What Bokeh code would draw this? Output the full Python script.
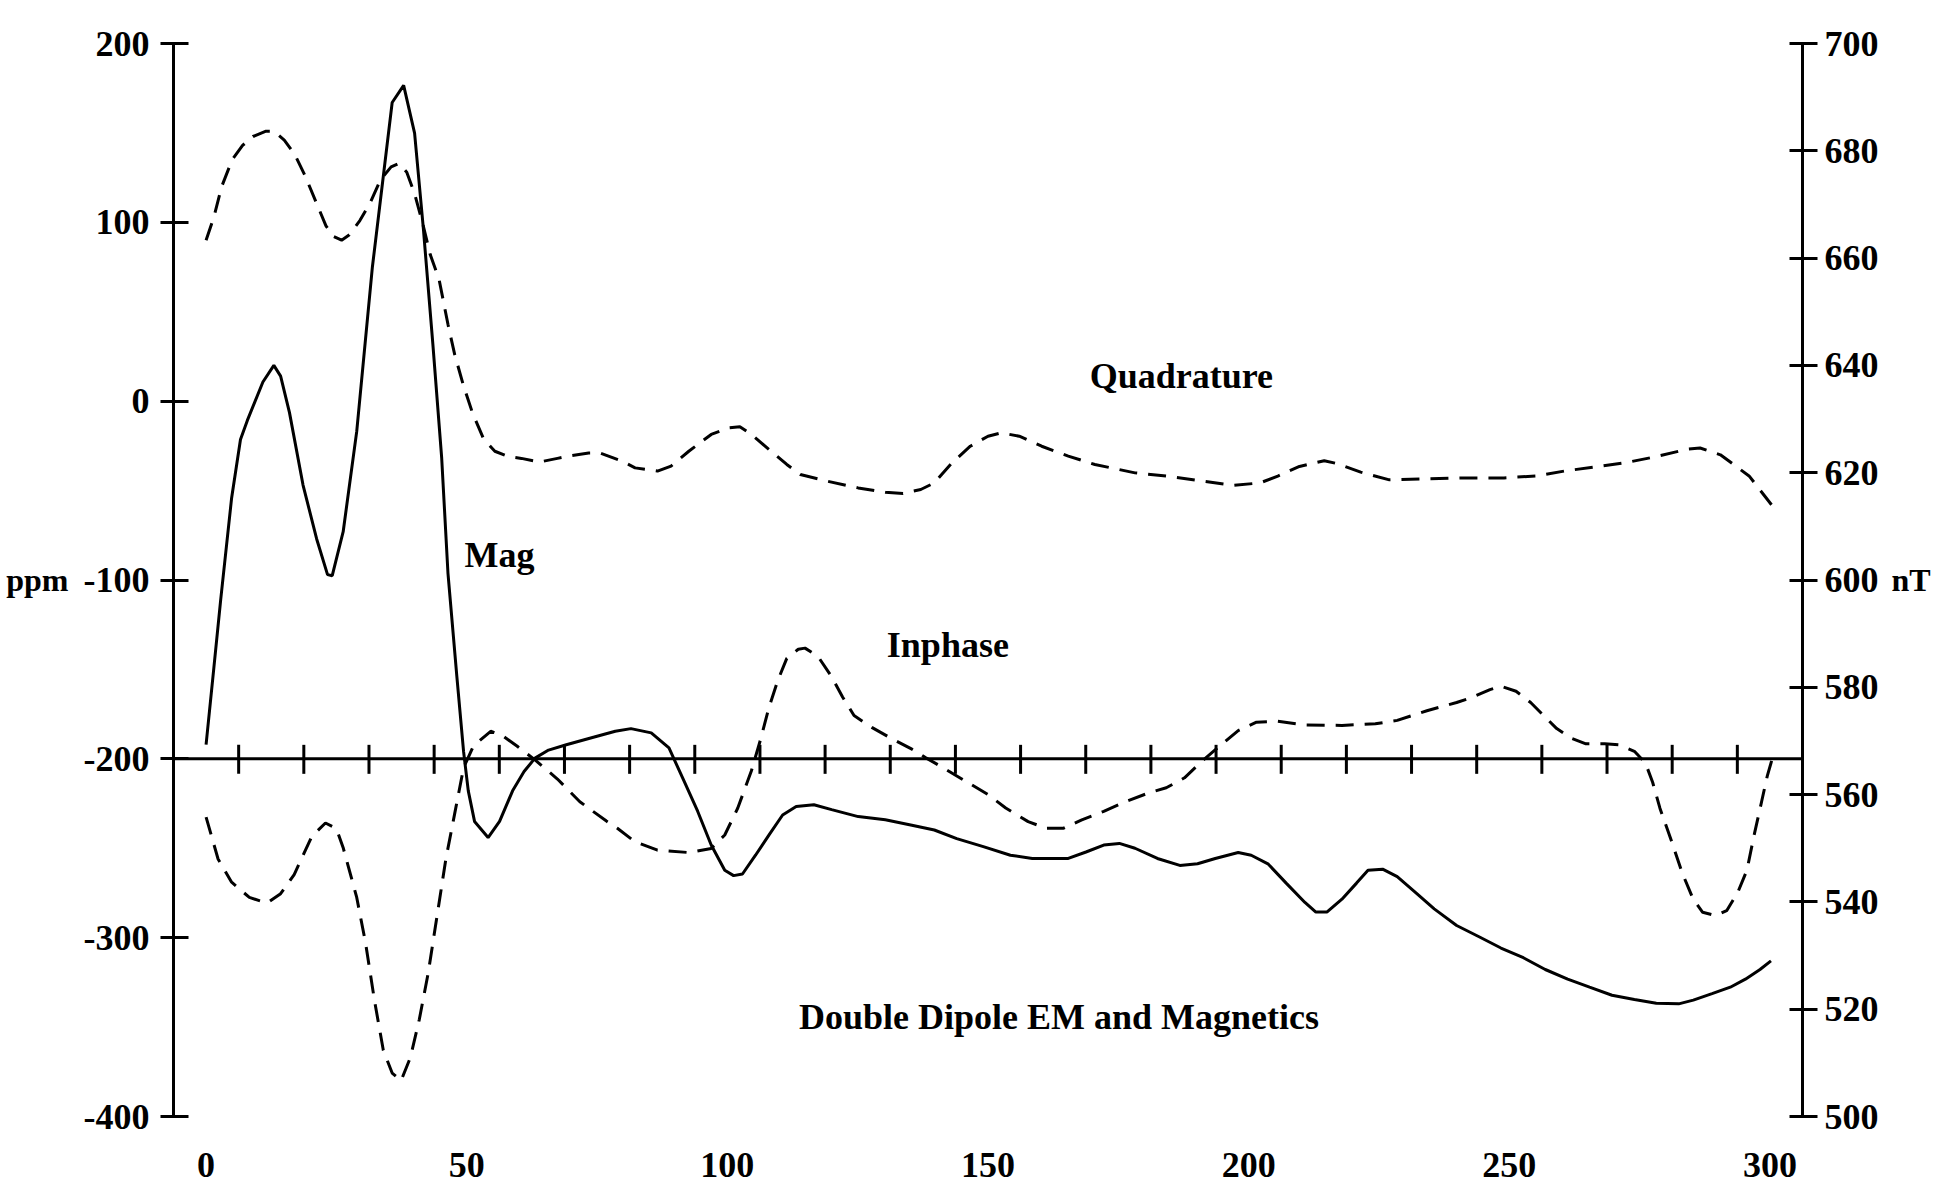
from bokeh.plotting import figure
from bokeh.models import Range1d, LinearAxis, FixedTicker, ColumnDataSource, Span
from bokeh.embed import file_html
from bokeh.resources import INLINE
from bokeh.core.properties import value

FONT = "Liberation Serif"
FSIZE = "36px"
AXLABEL_SIZE = "32px"

# ---------------- data ----------------
# Quadrature (ppm, left axis) - dashed upper curve
quad_x = [0, 1.5, 3, 5, 7, 9, 11.5, 13, 15, 17, 19, 21, 23, 24.5, 26, 27.5, 29.5, 31.5,
          33.5, 35.5, 37, 38.5, 40, 41.5, 43, 44.7, 46.4, 47.7, 49.4, 51.1, 53.3, 55.4,
          58, 60.5, 64, 67.4, 70, 73.4, 75.5, 79.8, 82.3, 86.6, 89.2, 92.6, 96.9, 100.3,
          102.4, 104.6, 108, 111.4, 114, 119.1, 125.1, 130.3, 133.7, 137.1, 139.7, 143.1,
          146.6, 150, 152.5, 156, 160.3, 165.4, 170.5, 178.2, 184.2, 191.1, 197.1, 202.2,
          205.6, 209.75, 214.5, 216.8, 221.5, 227, 233.3, 241.1, 249, 255.2, 260.7, 266.2,
          272.5, 278, 284.3, 286.6, 290.5, 296, 300.3]
quad_ppm = [90, 103, 120, 135, 143, 148, 151, 151, 146, 138, 126, 112, 98, 92, 90, 93, 101,
            111, 124, 131, 133, 128, 116, 100, 82, 68, 43, 26, 8.5, -6.5, -21.5, -28,
            -31, -32, -34, -32, -30.5, -29, -28.9, -33.5, -37.3, -39.1, -36.3, -28, -18.6,
            -14.9, -14.3, -18.6, -27, -35.4, -41, -44.7, -48.5, -50.9, -51.6, -49.4, -45.7,
            -34.5, -25.2, -19.6, -17.7, -19.6, -25.2, -30.7, -35.4, -40.1, -41.9, -44.7,
            -47.1, -45.7, -41.9, -36.5, -33.3, -34.8, -39.7, -44, -43.5, -42.9, -42.9,
            -41.8, -39, -36.9, -34.3, -31.1, -26.8, -26.2, -30, -41.8, -57.9]

# Inphase (ppm, left axis) - dashed lower curve
inph_x = [0, 2.3, 4.9, 8.3, 11.7, 14.3, 16.9, 20.3, 22.9, 25, 26.3, 28.9, 30.6, 32.3, 34,
          35.7, 37.4, 39.2, 40.9, 42.6, 44.3, 46, 47.7, 49.4, 51.1, 52.4, 54.6, 56.7, 59.7,
          63.1, 67.4, 71.7, 76.8, 78.9, 82.3, 86.6, 92.6, 96.9, 99.5, 102, 104.6, 106.3,
          108, 109.7, 111.4, 113.6, 114.9, 117.4, 120, 122.1, 124.3, 127.7, 131.1, 135.4,
          138, 141.4, 145.7, 150, 153.4, 157.7, 161.1, 164.5, 168, 172.2, 176.5, 180.8,
          184.2, 187.7, 191.1, 194.5, 198, 201.5, 205.6, 210.8, 217.9, 224.3, 228.5, 234.2,
          239.9, 242.7, 246.3, 248.4, 251.3, 254.1, 256.9, 259.1, 261.9, 264.7, 268.3,
          271.1, 274, 276.1, 277.5, 278.9, 281.1, 283.2, 285.3, 287.1, 289.6, 291.7, 293.8,
          295.6, 297, 298.4, 299.5, 300.4]
inph_ppm = [-232.6, -256, -269, -277.5, -280.7, -275.4, -264.7, -243.3, -235.9, -239, -249.7,
            -277.5, -303, -335, -363, -375.7, -380, -367, -345.8, -320, -288, -256, -230.5,
            -205, -194, -190, -184.6, -186.7, -193, -200.6, -211.3, -224, -234.8, -238.8,
            -246.4, -251.1, -252.4, -250.1, -242.6, -227.5, -206.8, -189.9, -171.1, -156,
            -143.8, -138.7, -138.1, -142.8, -154.1, -165.4, -175.8, -182.4, -188, -194.6,
            -199.3, -205, -212.5, -220, -227.5, -235.1, -238.8, -238.8, -234.1, -229.4,
            -223.8, -219.1, -216.2, -210.6, -201.2, -192.7, -184.2, -179.5, -179, -181,
            -181.3, -180.4, -178.5, -173.1, -168.5, -165.8, -161.3, -159.4, -162.2, -168.5,
            -176.7, -183.1, -188.5, -191.6, -191.6, -192.2, -195.8, -202.2, -213.1, -227.6,
            -245.8, -264, -278.6, -285.8, -287.7, -284.9, -274.9, -262.2, -242.2, -224,
            -209.5, -200.4]

# Mag (nT, right axis) - solid curve
mag_x = [0, 1.5, 2.8, 4.9, 6.6, 7.9, 10.9, 13, 14.3, 16, 18.6, 21.2, 23.3, 24.2, 26.3, 28.9,
         31.9, 35.7, 37.9, 40, 41.7, 43.5, 45.2, 46.4, 48.1, 49.4, 50.3, 51.5, 54.1, 56.3,
         58.8, 61, 63.1, 65.7, 69.1, 74.3, 78.5, 81.5, 85.4, 88.8, 91.7, 94.3, 96.9, 99.5,
         101.2, 102.9, 105.4, 108, 110.6, 113.2, 116.6, 120, 125.1, 130.3, 135.4, 139.7,
         144, 149.1, 154.3, 158.5, 165.4, 168.8, 172.2, 175.2, 178.2, 182.5, 186.8, 190.2,
         193.6, 198, 200.5, 203.7, 207.2, 210.8, 212.9, 215, 217.9, 220.7, 222.9, 225.7,
         228.5, 232.1, 235.6, 239.9, 244.2, 248.4, 252.7, 256.9, 261.2, 265.4, 269.7, 274,
         278.2, 282.5, 285.3, 288.9, 292.4, 295.3, 298.1, 300.2]
mag_nt = [569.3, 583.7, 596.3, 615.3, 626.2, 629.7, 636.9, 640.0, 638.0, 631.2, 617.7, 607.7,
          601.0, 600.8, 609.0, 627.7, 658.3, 689.0, 692.2, 683.3, 665.3, 644.0, 622.7, 601.3,
          582.1, 568.0, 560.7, 555.0, 552.0, 555.0, 560.7, 564.3, 566.8, 568.3, 569.3, 570.7,
          571.8, 572.3, 571.5, 568.7, 562.5, 556.9, 550.6, 545.9, 544.9, 545.2, 548.7, 552.5,
          556.2, 557.8, 558.1, 557.2, 555.9, 555.3, 554.3, 553.4, 551.8, 550.3, 548.7, 548.1,
          548.1, 549.3, 550.6, 550.9, 550.0, 548.1, 546.8, 547.1, 548.1, 549.2, 548.7, 547.1,
          543.5, 539.9, 538.1, 538.1, 540.5, 543.5, 545.9, 546.1, 544.7, 541.7, 538.7, 535.6,
          533.5, 531.4, 529.6, 527.4, 525.6, 524.1, 522.6, 521.8, 521.1, 521.0, 521.7, 522.9,
          524.1, 525.6, 527.4, 529.0]

# axis ticks / labels
x_label_ticks = [0, 50, 100, 150, 200, 250, 300]
x_minor_ticks = [-6.25 + 12.5 * k for k in range(1, 25)]
ppm_ticks = [-400, -300, -200, -100, 0, 100, 200]
nt_ticks = [500, 520, 540, 560, 580, 600, 620, 640, 660, 680, 700]
baseline_ppm = -200

# annotations
note_text = ["Quadrature", "Mag", "Inphase", "Double Dipole EM and Magnetics"]
note_x = [187.1, 56.3, 142.3, 163.6]
note_y = [13.8, -86.3, -136.1, -344.4]

# ---------------- figure ----------------
FW, FH = 1629, 1073
Y0, Y1 = -400, 200
p = figure(frame_width=FW, frame_height=FH,
           x_range=Range1d(-6.25, 306.25), y_range=Range1d(Y0, Y1),
           output_backend="svg", toolbar_location=None,
           min_border_left=173, min_border_right=60,
           min_border_top=43, min_border_bottom=80)
p.extra_y_ranges = {"nt": Range1d(500, 700)}
p.outline_line_color = None
p.xgrid.visible = False
p.ygrid.visible = False
p.background_fill_color = "white"
p.border_fill_color = "white"


def style_labels(ax, ticks):
    ax.ticker = FixedTicker(ticks=ticks)
    ax.major_label_overrides = {t: str(t) for t in ticks}
    ax.major_label_text_font = FONT
    ax.major_label_text_font_size = FSIZE
    ax.major_label_text_font_style = "bold"
    ax.major_label_text_color = "black"
    ax.minor_tick_line_color = None


def style_title(ax, text, standoff):
    ax.axis_label = text
    ax.axis_label_orientation = "horizontal"
    ax.axis_label_text_font = FONT
    ax.axis_label_text_font_size = AXLABEL_SIZE
    ax.axis_label_text_font_style = "bold"
    ax.axis_label_text_color = "black"
    ax.axis_label_standoff = standoff


# left axis (ppm)
ly = p.yaxis[0]
style_labels(ly, ppm_ticks)
ly.axis_line_width = 3
ly.major_tick_line_width = 3
ly.major_tick_in = 15
ly.major_tick_out = 13
ly.major_label_standoff = 11
style_title(ly, "ppm", 12)

# right axis (nT)
ry = LinearAxis(y_range_name="nt")
style_labels(ry, nt_ticks)
ry.axis_line_width = 3
ry.major_tick_line_width = 3
ry.major_tick_in = 13
ry.major_tick_out = 15
ry.major_label_standoff = 7
style_title(ry, "nT", 10)
p.add_layout(ry, "right")

# bottom axis: labels only
bx = p.xaxis[0]
style_labels(bx, x_label_ticks)
bx.axis_line_color = None
bx.major_tick_line_color = None
bx.major_tick_in = 0
bx.major_tick_out = 0
bx.major_label_standoff = 36

# horizontal axis line through -200 ppm with crossing ticks
p.add_layout(Span(location=baseline_ppm, dimension="width",
                  line_color="black", line_width=3))
px_per_ppm = FH / (Y1 - Y0)
tick_up, tick_down = 14 / px_per_ppm, 15 / px_per_ppm
p.segment(x0=x_minor_ticks, x1=x_minor_ticks,
          y0=[baseline_ppm - tick_down] * len(x_minor_ticks),
          y1=[baseline_ppm + tick_up] * len(x_minor_ticks),
          line_color="black", line_width=3)

# curves
p.line(quad_x, quad_ppm, line_color="black", line_width=3, line_dash="18 11")
p.line(inph_x, inph_ppm, line_color="black", line_width=3, line_dash="18 11")
p.line(mag_x, mag_nt, line_color="black", line_width=3, y_range_name="nt")

# text annotations
src = ColumnDataSource(dict(x=note_x, y=note_y, text=note_text))
p.text(x="x", y="y", text="text", source=src, text_align="center",
       text_baseline="middle", text_font=value(FONT), text_font_size=FSIZE,
       text_font_style="bold", text_color="black")

open("out.html", "w").write(file_html(p, INLINE))
